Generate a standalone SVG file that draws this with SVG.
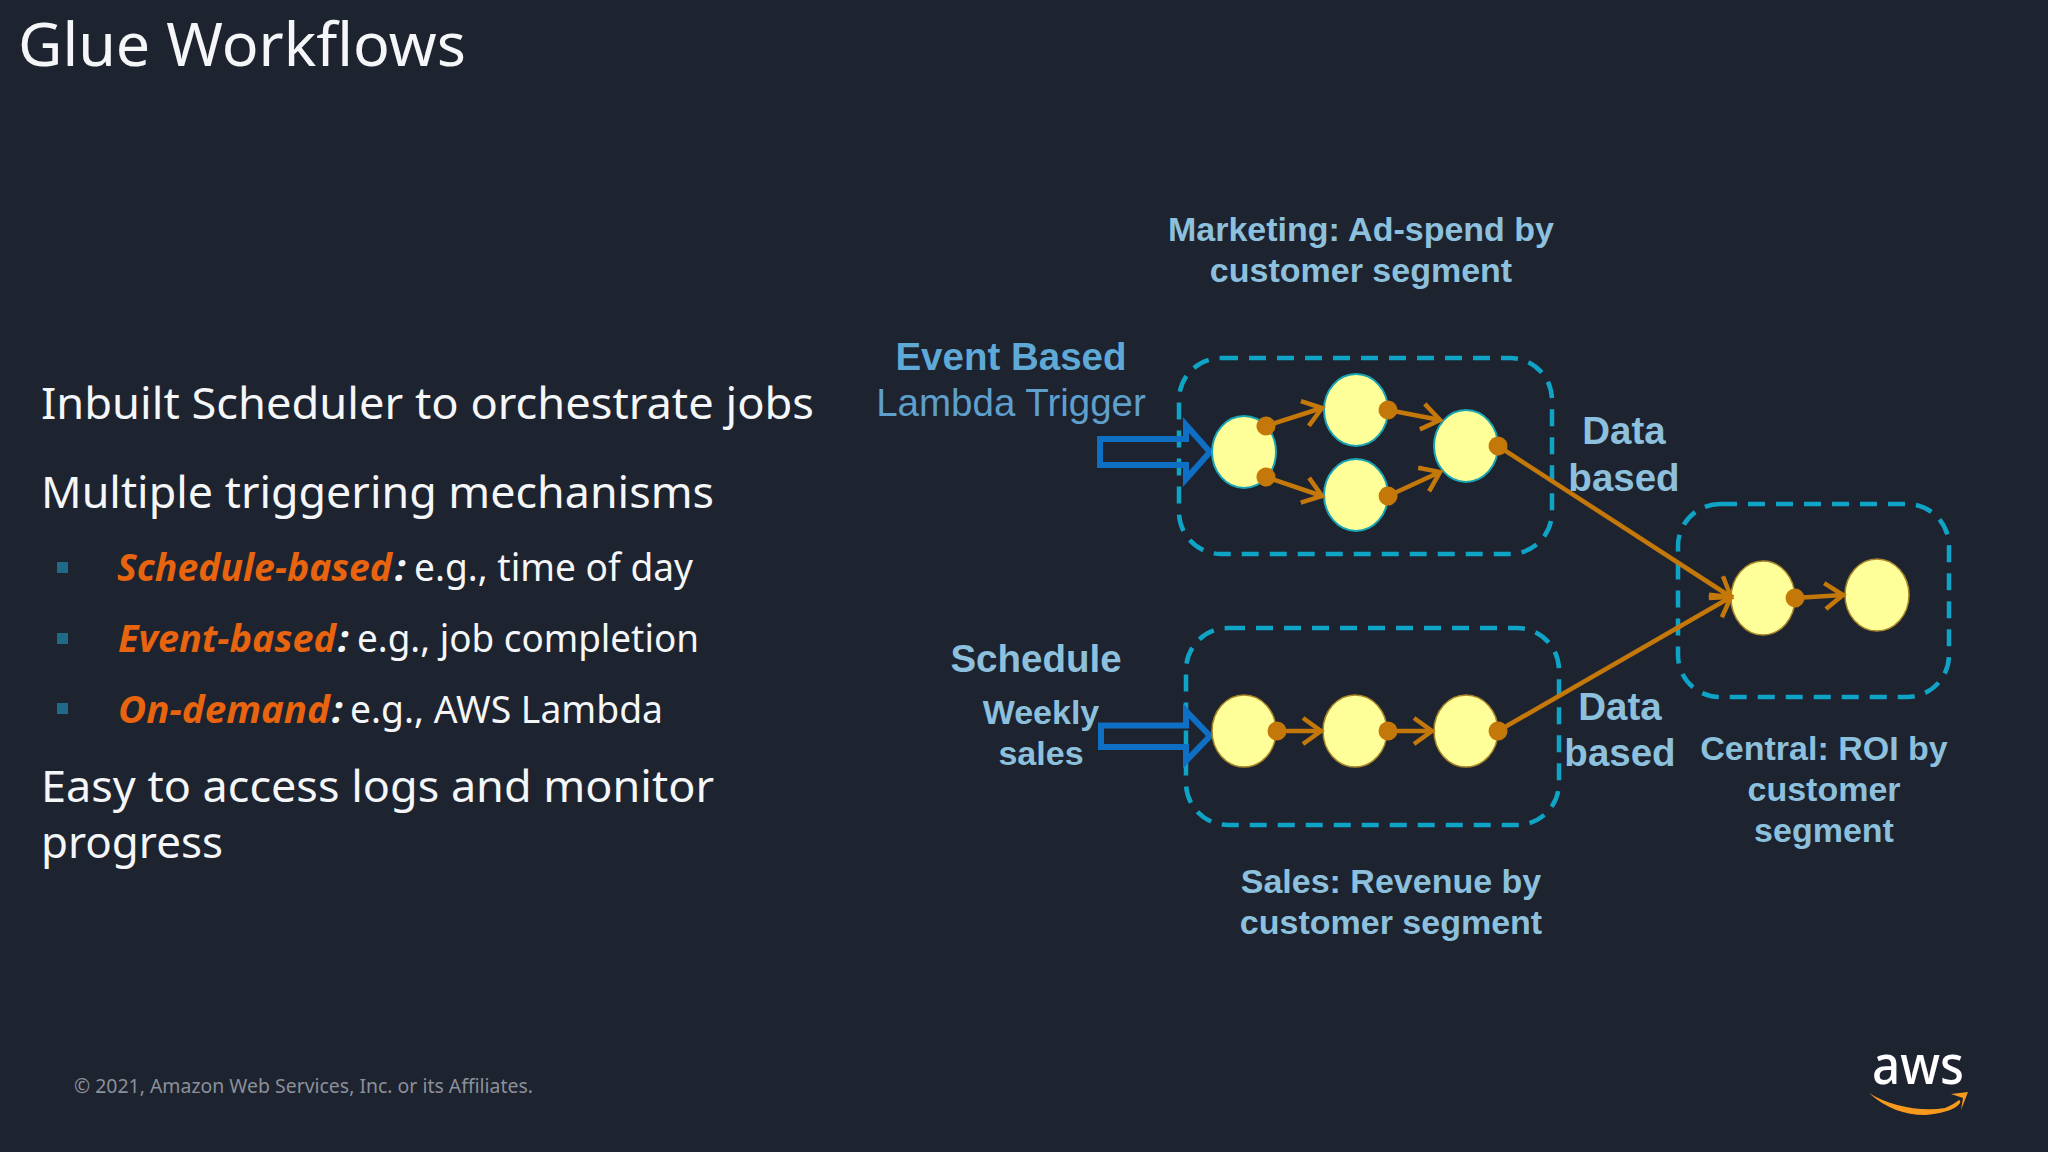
<svg xmlns="http://www.w3.org/2000/svg" width="2048" height="1152" viewBox="0 0 2048 1152">
<style>
.body{font-family:"Noto Sans","Open Sans",sans-serif;fill:#f4f6f8}
.h1{font-size:60px}
.b1{font-size:44px}
.b2{font-size:38px}
.em{font-weight:700;font-style:italic;fill:#e8640f}
.colon{font-weight:700;font-style:italic;fill:#f4f6f8}
.lab{font-family:"Liberation Sans",Arial,sans-serif;font-weight:700;text-anchor:middle;fill:#8cc0dd;font-size:34px}
.big{font-size:38.5px}
.box{fill:none;stroke:#0fa3c6;stroke-width:4.5;stroke-dasharray:17 11}
.n{fill:#ffff99;stroke:#a8862a;stroke-width:1.5}
.nc{fill:#ffff99;stroke:#19a5b5;stroke-width:2}
.c{fill:none;stroke:#c4780a;stroke-width:4.5;marker-start:url(#dot);marker-end:url(#head)}
.block{fill:none;stroke:#0e6fc4;stroke-width:6;stroke-linejoin:miter}
.sq{fill:#1f6a86}
</style>
<defs>
<marker id="head" markerUnits="userSpaceOnUse" markerWidth="44" markerHeight="44" refX="26" refY="22" orient="auto">
<path d="M8 9 L26 22 L8 35" fill="none" stroke="#c4780a" stroke-width="4.5"/>
</marker>
<marker id="dot" markerUnits="userSpaceOnUse" markerWidth="26" markerHeight="26" refX="13" refY="13" orient="auto">
<circle cx="13" cy="13" r="9.5" fill="#c4780a"/>
</marker>
</defs>
<rect width="2048" height="1152" fill="#1e2330"/>

<g id="title"><text class="body h1" x="18" y="66" textLength="448" lengthAdjust="spacingAndGlyphs">Glue Workflows</text></g>

<g id="bullets">
<text class="body b1" x="41" y="419" textLength="773" lengthAdjust="spacingAndGlyphs">Inbuilt Scheduler to orchestrate jobs</text>
<text class="body b1" x="41" y="508" textLength="673" lengthAdjust="spacingAndGlyphs">Multiple triggering mechanisms</text>
<rect class="sq" x="57" y="562" width="11" height="11"/>
<rect class="sq" x="57" y="633" width="11" height="11"/>
<rect class="sq" x="57" y="703" width="11" height="11"/>
<text class="body b2 em" x="117" y="581" textLength="275" lengthAdjust="spacingAndGlyphs">Schedule-based</text>
<text class="body b2 colon" x="395" y="581">:</text>
<text class="body b2" x="414" y="581" textLength="279" lengthAdjust="spacingAndGlyphs">e.g., time of day</text>
<text class="body b2 em" x="118" y="652" textLength="218" lengthAdjust="spacingAndGlyphs">Event-based</text>
<text class="body b2 colon" x="338" y="652">:</text>
<text class="body b2" x="357" y="652" textLength="342" lengthAdjust="spacingAndGlyphs">e.g., job completion</text>
<text class="body b2 em" x="118" y="723" textLength="212" lengthAdjust="spacingAndGlyphs">On-demand</text>
<text class="body b2 colon" x="332" y="723">:</text>
<text class="body b2" x="350" y="723" textLength="313" lengthAdjust="spacingAndGlyphs">e.g., AWS Lambda</text>
<text class="body b1" x="41" y="802" textLength="673" lengthAdjust="spacingAndGlyphs">Easy to access logs and monitor</text>
<text class="body b1" x="41" y="858" textLength="182" lengthAdjust="spacingAndGlyphs">progress</text>
</g>

<g id="labels">
<text class="lab" x="1361" y="241">Marketing: Ad-spend by</text>
<text class="lab" x="1361" y="282">customer segment</text>
<text class="lab big" x="1011" y="370" style="fill:#5fa9d6">Event Based</text>
<text class="lab big" x="1011" y="416" style="font-weight:400;fill:#5f9fcc">Lambda Trigger</text>
<text class="lab big" x="1624" y="444">Data</text>
<text class="lab big" x="1624" y="491">based</text>
<text class="lab big" x="1620" y="720">Data</text>
<text class="lab big" x="1620" y="766">based</text>
<text class="lab big" x="1036" y="672">Schedule</text>
<text class="lab" x="1041" y="724">Weekly</text>
<text class="lab" x="1041" y="765">sales</text>
<text class="lab" x="1391" y="893">Sales: Revenue by</text>
<text class="lab" x="1391" y="934">customer segment</text>
<text class="lab" x="1824" y="760">Central: ROI by</text>
<text class="lab" x="1824" y="801">customer</text>
<text class="lab" x="1824" y="842">segment</text>
</g>

<g id="groups">
<rect id="box-marketing" class="box" x="1179" y="358" width="373" height="196" rx="42"/>
<rect id="box-sales" class="box" x="1186" y="628" width="373" height="197" rx="42"/>
<rect id="box-central" class="box" x="1678" y="504" width="271" height="193" rx="42"/>
</g>

<g id="trigger-event"><path class="block" d="M1100 439 H1186 V425 L1210 452 L1186 479 V465 H1100 Z"/></g>
<g id="trigger-schedule"><path class="block" d="M1101 725.5 H1186 V711 L1210 736 L1186 761 V747 H1101 Z"/></g>

<g id="m1"><ellipse class="nc" cx="1244" cy="452" rx="32" ry="36"/></g>
<g id="m2"><ellipse class="nc" cx="1356" cy="410" rx="32" ry="36"/></g>
<g id="m3"><ellipse class="nc" cx="1356" cy="495" rx="32" ry="36"/></g>
<g id="m4"><ellipse class="nc" cx="1466" cy="446" rx="32" ry="36"/></g>
<g id="s1"><ellipse class="n" cx="1244" cy="731" rx="32" ry="36"/></g>
<g id="s2"><ellipse class="n" cx="1355" cy="731" rx="32" ry="36"/></g>
<g id="s3"><ellipse class="n" cx="1466" cy="731" rx="32" ry="36"/></g>
<g id="c1"><ellipse class="n" cx="1763" cy="598" rx="32" ry="37"/></g>
<g id="c2"><ellipse class="n" cx="1877" cy="595" rx="32" ry="36"/></g>

<g id="connectors">
<path class="c" d="M1266 426 L1322 408"/>
<path class="c" d="M1266 477 L1322 496"/>
<path class="c" d="M1388 410 L1440 420"/>
<path class="c" d="M1388 496 L1440 472"/>
<path class="c" d="M1498 446 L1731 597"/>
<path class="c" d="M1277 731 L1321 731"/>
<path class="c" d="M1388 731 L1432 731"/>
<path class="c" d="M1498 731 L1731 597"/>
<path class="c" d="M1795 598 L1843 595"/>
</g>

<g id="footer">
<text x="74" y="1093" style="font-family:'Noto Sans','Open Sans',sans-serif;fill:#8b9099;font-size:19px" textLength="459" lengthAdjust="spacingAndGlyphs">© 2021, Amazon Web Services, Inc. or its Affiliates.</text>
</g>

<g id="aws-logo">
<text x="1872" y="1084" style="font-family:'Noto Sans','Open Sans',sans-serif;font-weight:500;fill:#ffffff;font-size:54px" textLength="92" lengthAdjust="spacingAndGlyphs">aws</text>
<path d="M1869 1093 C1890 1106 1920 1112 1945 1108 C1950 1106 1955 1103 1959 1100 C1964 1102 1955 1113 1925 1115 C1905 1115 1885 1108 1869 1093 Z" fill="#f7991c"/>
<path d="M1951 1094 L1968 1092 L1961 1110 L1963 1098 Z" fill="#f7991c"/>
</g>
</svg>
